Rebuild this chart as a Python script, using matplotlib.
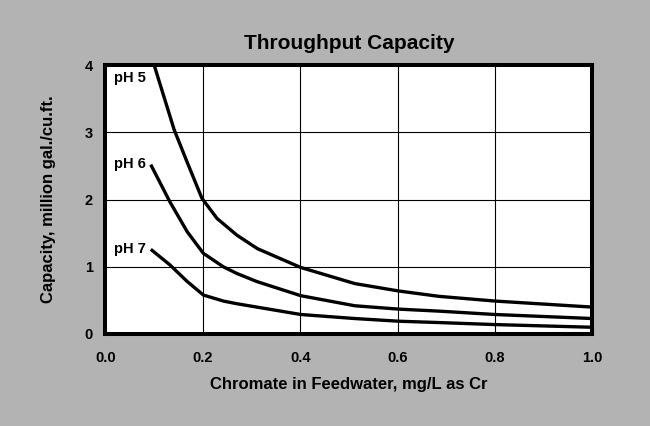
import matplotlib
matplotlib.use("Agg")
import matplotlib.pyplot as plt
import numpy as np

plt.rcParams['font.family'] = ['Liberation Sans Narrow', 'Liberation Sans', 'DejaVu Sans']
plt.rcParams['font.weight'] = 'bold'

# values
x_ph5 = [0.100, 0.141, 0.167, 0.198, 0.229, 0.270, 0.312, 0.401, 0.512, 0.602, 0.685, 0.800, 1.000]
y_ph5 = [4.00, 3.04, 2.57, 2.02, 1.72, 1.47, 1.27, 0.99, 0.75, 0.64, 0.56, 0.49, 0.40]

x_ph6 = [0.093, 0.132, 0.168, 0.201, 0.242, 0.270, 0.311, 0.401, 0.512, 0.602, 0.685, 0.800, 1.000]
y_ph6 = [2.52, 1.97, 1.52, 1.20, 1.00, 0.90, 0.78, 0.57, 0.42, 0.37, 0.34, 0.29, 0.23]

x_ph7 = [0.093, 0.132, 0.168, 0.201, 0.242, 0.270, 0.311, 0.401, 0.512, 0.602, 0.685, 0.800, 1.000]
y_ph7 = [1.26, 1.03, 0.78, 0.58, 0.49, 0.45, 0.40, 0.29, 0.23, 0.19, 0.17, 0.14, 0.10]

labels = ["pH 5", "pH 6", "pH 7"]
label_y = [3.81, 2.53, 1.27]

xticks = [0.0, 0.2, 0.4, 0.6, 0.8, 1.0]
yticks = [0, 1, 2, 3, 4]

bg = '#b3b3b3'
fig = plt.figure(figsize=(6.5, 4.26), dpi=100, facecolor=bg)
ax = fig.add_axes([0.1623, 0.216, 0.749, 0.631])

for xs, ys in [(x_ph5, y_ph5), (x_ph6, y_ph6), (x_ph7, y_ph7)]:
    ax.plot(xs, ys, color='black', linewidth=2.4, solid_capstyle='butt',
            solid_joinstyle='round', zorder=3)

for lab, ly in zip(labels, label_y):
    ax.text(0.017, ly, lab, fontsize=10.5, fontweight='bold', ha='left', va='center')

ax.set_xlim(0, 1)
ax.set_ylim(0, 4)
ax.set_xticks(xticks)
ax.set_xticklabels([f"{v:.1f}" for v in xticks])
ax.set_yticks(yticks)
ax.grid(True, color='black', linewidth=0.8)
ax.tick_params(length=0, labelsize=10.5)
ax.tick_params(axis='x', pad=12)
ax.tick_params(axis='y', pad=9)
for s in ax.spines.values():
    s.set_linewidth(2.9)

ax.set_xlabel("Chromate in Feedwater, mg/L as Cr", fontsize=12, fontweight='bold', labelpad=9)
ax.set_ylabel("Capacity, million gal./cu.ft.", fontsize=12, fontweight='bold', labelpad=21)
ax.set_title("Throughput Capacity", fontsize=15, fontweight='bold', pad=12)

fig.savefig("out.png", dpi=100, facecolor=bg)
